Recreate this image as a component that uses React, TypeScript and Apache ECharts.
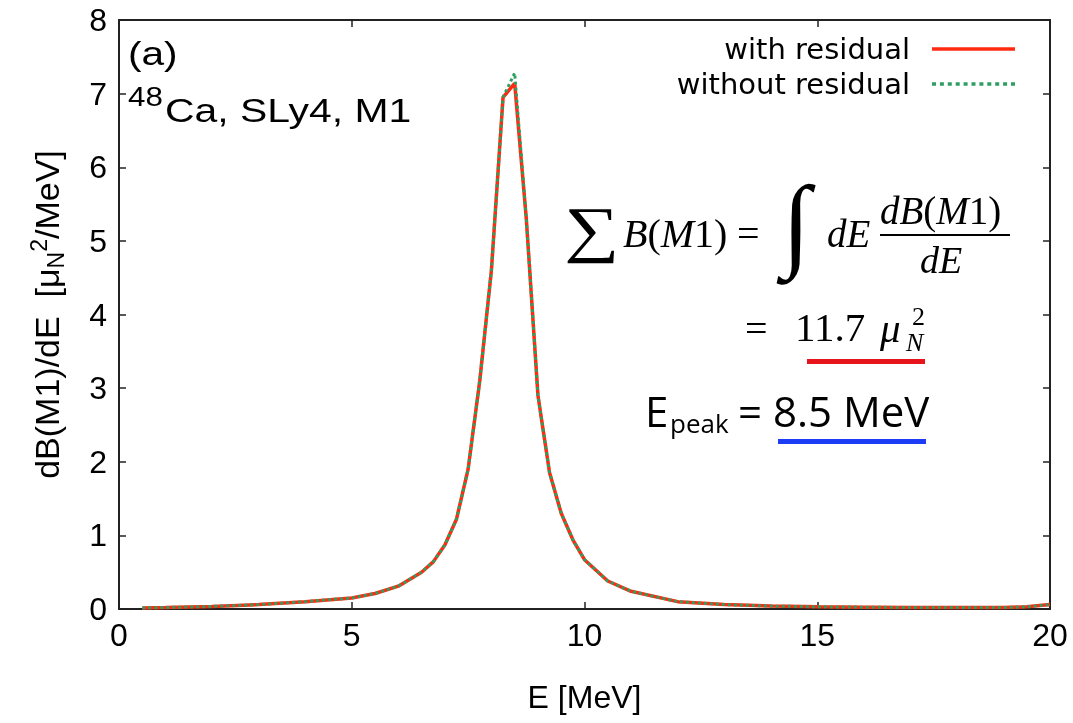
import React, { useEffect, useRef } from "react";
import * as echarts from "echarts";

const energies = [0.5, 1, 2, 3, 4, 5, 5.5, 6, 6.5, 6.75, 7, 7.25, 7.5, 7.75, 8, 8.25, 8.5, 8.75, 9, 9.25, 9.5, 9.75, 10, 10.5, 11, 12, 13, 14, 15, 16, 17, 18, 19, 19.5, 20];
const withResidual = [0.015, 0.02, 0.035, 0.06, 0.1, 0.15, 0.21, 0.31, 0.5, 0.64, 0.87, 1.22, 1.9, 3.1, 4.6, 6.95, 7.14, 5.3, 2.9, 1.85, 1.3, 0.94, 0.67, 0.38, 0.24, 0.1, 0.06, 0.04, 0.03, 0.025, 0.02, 0.02, 0.02, 0.03, 0.06];
const withoutResidual = [0.015, 0.02, 0.035, 0.06, 0.1, 0.15, 0.21, 0.31, 0.5, 0.64, 0.87, 1.22, 1.9, 3.1, 4.6, 6.95, 7.28, 5.3, 2.9, 1.85, 1.3, 0.94, 0.67, 0.38, 0.24, 0.1, 0.06, 0.04, 0.03, 0.025, 0.02, 0.02, 0.02, 0.03, 0.06];
const seriesNames = ["with residual", "without residual"];

const SANS = "'Liberation Sans', Arial, Helvetica, sans-serif";
const WIDE = "'DejaVu Sans', 'Liberation Sans', sans-serif";
const SERIF = "'Liberation Serif', 'DejaVu Serif', 'Times New Roman', serif";
const CAL = "'Open Sans', 'Noto Sans', sans-serif";
const RED = "#ff2a10";
const GREEN = "#2f9e62";
const FRAME = "#222";

function dottedIcon(): string {
  let d = "path://";
  for (let i = 0; i < 11; i++) {
    const x = i * 7.9;
    d += `M${x},0h4v3.5h-4z`;
  }
  return d;
}

export default function App() {
  const ref = useRef<HTMLDivElement>(null);
  useEffect(() => {
    if (!ref.current) return;
    const chart = echarts.init(ref.current, undefined, { renderer: "svg" });
    const pairs = (ys: number[]) => energies.map((e, i) => [e, ys[i]]);
    const mkLabel = () => ({ show: true, fontSize: 32, color: "#000", fontFamily: SANS });
    const mkTick = () => ({ show: true, inside: true, length: 7, lineStyle: { color: FRAME, width: 1.5 } });
    const mkLine = () => ({ show: true, onZero: false, lineStyle: { color: FRAME, width: 2 } });
    const t = (text: string, x: number, y: number, fs: number, ff: string, extra: any = {}, sx = 1) => ({
      type: "text",
      x,
      y,
      scaleX: sx,
      style: { text, fontSize: fs, fontFamily: ff, fill: "#000", verticalAlign: "middle", align: "left", ...extra },
    });
    chart.setOption({
      animation: false,
      grid: { left: 119, right: 23, top: 20, bottom: 114 },
      legend: {
        data: [
          { name: seriesNames[0], icon: "rect" },
          { name: seriesNames[1], icon: dottedIcon() },
        ],
        orient: "vertical",
        align: "right",
        right: 53,
        top: 28,
        itemWidth: 83,
        itemHeight: 3.5,
        itemGap: 3,
        selectedMode: false,
        textStyle: { fontSize: 29, lineHeight: 32, fontFamily: WIDE, color: "#000", padding: [0, 17, 0, 0] },
      },
      xAxis: [
        {
          type: "value",
          min: 0,
          max: 20,
          interval: 5,
          name: "E [MeV]",
          nameLocation: "middle",
          nameGap: 72,
          nameTextStyle: { fontSize: 32, fontFamily: SANS, color: "#000" },
          axisLine: mkLine(),
          axisTick: mkTick(),
          axisLabel: { ...mkLabel(), margin: 10 },
          splitLine: { show: false },
        },
        {
          type: "value",
          position: "top",
          min: 0,
          max: 20,
          interval: 5,
          axisLine: mkLine(),
          axisTick: mkTick(),
          axisLabel: { show: false },
          splitLine: { show: false },
        },
      ],
      yAxis: [
        {
          type: "value",
          min: 0,
          max: 8,
          interval: 1,
          name: "{n|dB(M1)/dE  [μ}{sub|N}{sup|2}{n|/MeV]}",
          nameLocation: "middle",
          nameGap: 52,
          nameRotate: 90,
          nameTextStyle: {
            fontSize: 34,
            fontFamily: SANS,
            color: "#000",
            rich: {
              n: { fontSize: 34, fontFamily: SANS, color: "#000", lineHeight: 40 },
              sub: { fontSize: 23, fontFamily: SANS, color: "#000", verticalAlign: "bottom", lineHeight: 34 },
              sup: { fontSize: 23, fontFamily: SANS, color: "#000", verticalAlign: "top", lineHeight: 34 },
            },
          },
          axisLine: mkLine(),
          axisTick: mkTick(),
          axisLabel: { ...mkLabel(), margin: 12 },
          splitLine: { show: false },
        },
        {
          type: "value",
          position: "right",
          min: 0,
          max: 8,
          interval: 1,
          axisLine: mkLine(),
          axisTick: mkTick(),
          axisLabel: { show: false },
          splitLine: { show: false },
        },
      ],
      series: [
        {
          name: seriesNames[0],
          type: "line",
          data: pairs(withResidual),
          symbol: "none",
          lineStyle: { color: RED, width: 3.5 },
          itemStyle: { color: RED },
          z: 2,
        },
        {
          name: seriesNames[1],
          type: "line",
          data: pairs(withoutResidual),
          symbol: "none",
          lineStyle: { color: GREEN, width: 3, type: "dotted" },
          itemStyle: { color: GREEN },
          z: 3,
        },
      ],
      graphic: [
        t("(a)", 128, 54, 33, SANS, {}, 1.23),
        t("48", 128, 96, 28, SANS, {}, 1.12),
        t("Ca, SLy4, M1", 165, 110, 33, SANS, {}, 1.24),
        // formula line 1
        t("∑", 564, 229, 62, SERIF, {}, 1.25),
        {
          type: "text",
          x: 623,
          y: 233,
          style: {
            text: "{i|B}{r|(}{i|M}{r|1)}",
            verticalAlign: "middle",
            rich: {
              i: { fontSize: 40, fontFamily: SERIF, fontStyle: "italic", fill: "#000" },
              r: { fontSize: 40, fontFamily: SERIF, fill: "#000" },
            },
          },
        },
        t("=", 737, 233, 40, SERIF),
        t("∫", 782, 222, 103, SERIF, { fontStyle: "italic" }),
        t("dE", 827, 233, 39, SERIF, { fontStyle: "italic" }),
        {
          type: "text",
          x: 880,
          y: 210,
          style: {
            text: "{i|dB}{r|(}{i|M}{r|1)}",
            verticalAlign: "middle",
            rich: {
              i: { fontSize: 39, fontFamily: SERIF, fontStyle: "italic", fill: "#000" },
              r: { fontSize: 39, fontFamily: SERIF, fill: "#000" },
            },
          },
        },
        { type: "line", shape: { x1: 880, y1: 235, x2: 1010, y2: 235 }, style: { stroke: "#000", lineWidth: 2 } },
        t("dE", 920, 260, 38, SERIF, { fontStyle: "italic" }),
        // formula line 2
        t("=", 745, 328, 40, SERIF),
        t("11.7", 795, 327, 41, SERIF),
        t("μ", 880, 328, 41, SERIF, { fontStyle: "italic" }),
        t("2", 912, 316, 26, SERIF),
        t("N", 906, 342, 26, SERIF, { fontStyle: "italic" }),
        { type: "rect", shape: { x: 807, y: 359, width: 118, height: 5 }, style: { fill: "#e8141c" } },
        // Epeak
        t("E", 645, 410, 42, CAL),
        t("peak", 670, 423, 26, CAL),
        t("= 8.5 MeV", 738, 410, 42, CAL),
        { type: "rect", shape: { x: 778, y: 439, width: 148, height: 5 }, style: { fill: "#1c3cf5" } },
      ],
    });
    return () => chart.dispose();
  }, []);
  return <div ref={ref} style={{ position: "fixed", left: 0, top: 0, width: 1073, height: 723 }} />;
}
